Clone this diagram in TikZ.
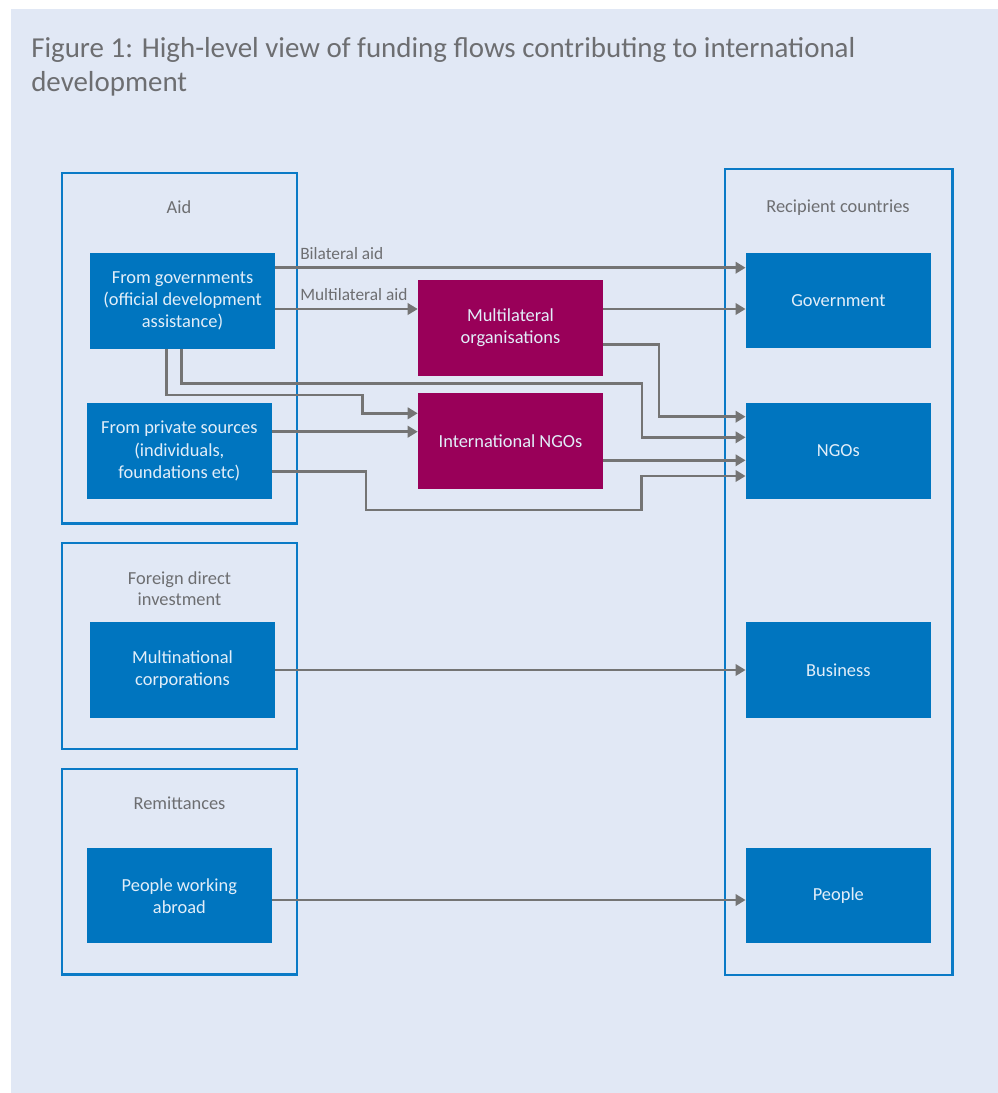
\documentclass[tikz,border=0pt]{standalone}
\usepackage{fontspec}
\setmainfont{Carlito}
\usetikzlibrary{arrows.meta}
\definecolor{bgc}{HTML}{E1E8F5}
\definecolor{boxblue}{HTML}{0075BF}
\definecolor{frameblue}{HTML}{0A7AC6}
\definecolor{magentabox}{HTML}{990059}
\definecolor{greytext}{HTML}{6D6E71}
\definecolor{flowgrey}{HTML}{747474}
\definecolor{boxtext}{HTML}{E2EEF9}
\tikzset{
  group/.style={draw=frameblue, line width=1.8pt, fill=none, inner sep=0pt},
  bluebox/.style={fill=boxblue, draw=none, text=boxtext, align=center, inner sep=0pt,
    minimum width=138.75pt, minimum height=71.5pt, font=\fontsize{13.8}{16.6}\selectfont},
  magbox/.style={bluebox, fill=magentabox},
  grouplabel/.style={text=greytext, align=center, font=\fontsize{13.8}{15.75}\selectfont},
  flowlabel/.style={text=greytext, anchor=base west, inner sep=0pt, font=\fontsize{13}{14}\selectfont},
  flow/.style={draw=flowgrey, line width=2pt, -{Triangle[length=7.5pt,width=8.5pt]}},
}
\begin{document}
\begin{tikzpicture}[x=0.75pt,y=-0.75pt]
\useasboundingbox (0,0) rectangle (998,1093);
\fill[white] (0,0) rectangle (998,1093);
\fill[bgc] (11,9) rectangle (998,1093);

\node[anchor=base west, align=left, inner sep=0pt, text=greytext, font=\fontsize{21.7}{25.5}\selectfont] (title) at (31,91)
  {Figure 1: High-level view of funding flows contributing to international\\development};

% group frames
\node[group, minimum width=176.25pt, minimum height=262.95pt] (aid) at (179.5,348) {};
\node[group, minimum width=176.25pt, minimum height=154.7pt] (fdi) at (179.5,645.85) {};
\node[group, minimum width=176.25pt, minimum height=154pt] (remit) at (179.5,871.65) {};
\node[group, minimum width=170.5pt, minimum height=604.3pt] (rec) at (838.65,572.15) {};

\node[grouplabel] (aidlab) at (179,206.7) {Aid};
\node[grouplabel] (fdilab) at (179.5,588.5) {Foreign direct\\investment};
\node[grouplabel] (remitlab) at (179.5,803) {Remittances};
\node[grouplabel] (reclab) at (838,207.7) {Recipient countries};

% boxes
\node[bluebox] (fromgov) at (182.5,301) {From governments\\(official development\\assistance)};
\node[bluebox] (private) at (179.35,451) {From private sources\\(individuals,\\foundations etc)};
\node[bluebox] (mnc) at (182.5,670) {Multinational\\corporations};
\node[bluebox] (pwa) at (179.35,895.8) {People working\\abroad};
\node[magbox] (multi) at (510.5,327.85) {Multilateral\\organisations};
\node[magbox] (ingo) at (510.5,441) {International NGOs};
\node[bluebox] (gov) at (838.35,300.5) {Government};
\node[bluebox] (ngos) at (838.35,450.85) {NGOs};
\node[bluebox] (business) at (838.35,670) {Business};
\node[bluebox] (people) at (838.35,895.8) {People};

% flows
\draw[flow] (fromgov.east |- 0,267.7) -- (gov.west |- 0,267.7);
\node[flowlabel] (bilab) at (300,259.5) {Bilateral aid};
\draw[flow] (fromgov.east |- 0,309) -- (multi.west |- 0,309);
\node[flowlabel] (multilab) at (300,300.5) {Multilateral aid};
\draw[flow] (multi.east |- 0,309) -- (gov.west |- 0,309);
\draw[flow] (multi.east |- 0,344.3) -- (659,344.3) -- (659,416.7) -- (ngos.west |- 0,416.7);
\draw[flow] (fromgov.south -| 181.7,0) -- (181.7,383.3) -- (642,383.3) -- (642,437.3) -- (ngos.west |- 0,437.3);
\draw[flow] (fromgov.south -| 166.7,0) -- (166.7,395) -- (362.7,395) -- (362.7,413.3) -- (ingo.west |- 0,413.3);
\draw[flow] (private.east |- 0,431.7) -- (ingo.west |- 0,431.7);
\draw[flow] (private.east |- 0,471.7) -- (366,471.7) -- (366,510) -- (641.7,510) -- (641.7,476) -- (ngos.west |- 0,476);
\draw[flow] (ingo.east |- 0,460.3) -- (ngos.west |- 0,460.3);
\draw[flow] (mnc.east |- 0,670) -- (business.west |- 0,670);
\draw[flow] (pwa.east |- 0,900) -- (people.west |- 0,900);
\end{tikzpicture}
\end{document}
